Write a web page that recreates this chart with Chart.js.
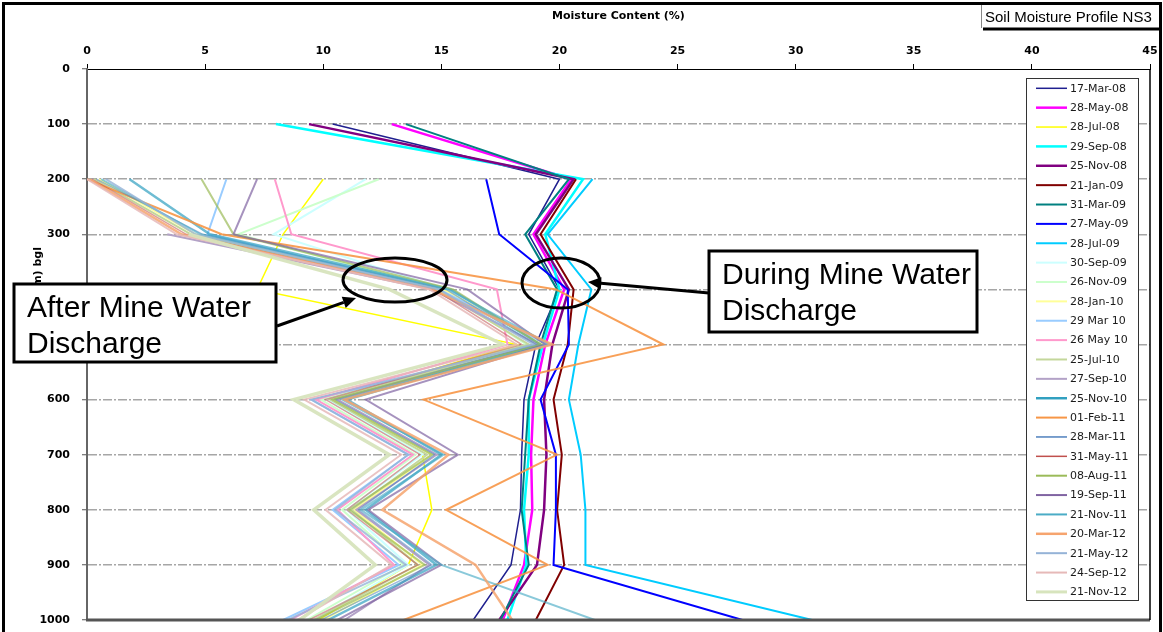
<!DOCTYPE html>
<html>
<head>
<meta charset="utf-8">
<script src="https://cdn.jsdelivr.net/npm/chart.js@4.4.0/dist/chart.umd.min.js"></script>
<style>
  html, body { margin: 0; padding: 0; background: #ffffff; }
  #wrap { width: 1163px; height: 632px; position: relative; }
  canvas { display: block; }
</style>
</head>
<body>
<div id="wrap"><canvas id="soil" width="1163" height="632"></canvas></div>
<script>
// Depths below ground level (mm) at which moisture was measured
const depthMm = [100, 200, 300, 400, 500, 600, 700, 800, 900, 1000];

// Axis tick values and their labels
const depthTickValues = [0, 100, 200, 300, 400, 500, 600, 700, 800, 900, 1000];
const depthTickLabels = ['0', '100', '200', '300', '400', '500', '600', '700', '800', '900', '1000'];
const moistureTickValues = [0, 5, 10, 15, 20, 25, 30, 35, 40, 45];
const moistureTickLabels = ['0', '5', '10', '15', '20', '25', '30', '35', '40', '45'];

// Moisture content (%) per survey date, one value per depth (null = not measured)
const v17Mar08 = [10.4, 20.0, 18.7, 20.0, 19.0, 18.5, 18.4, 18.35, 17.95, 16.35];
const v28May08 = [12.9, 20.5, 18.9, 20.2, 19.4, 18.9, 18.8, 18.85, 18.5, 17.6];
const v28Jul08 = [null, 10.0, 8.3, 7.2, 18.2, 10.3, 14.2, 14.6, 13.6, 9.8];
const v29Sep08 = [8.0, 21.0, 19.4, 20.0, 19.3, 18.7, 18.7, 18.5, 18.6, 17.8];
const v25Nov08 = [9.4, 20.6, 19.0, 20.4, 19.7, 19.35, 19.45, 19.35, 19.05, 17.45];
const v21Jan09 = [null, 20.7, 19.2, 20.6, 20.35, 19.75, 20.1, 19.9, 20.2, 19.0];
const v31Mar09 = [13.5, 20.4, 18.55, 19.9, 19.2, 18.7, 18.55, 18.4, 18.7, 17.5];
const v27May09 = [null, 16.9, 17.45, 20.35, 20.4, 19.2, 19.85, 19.85, 19.75, 27.75];
const v28Jul09 = [null, 21.4, 19.5, 21.35, 20.8, 20.4, 20.9, 21.1, 21.1, 30.7];
const v30Sep09 = [null, 11.8, 7.9, 15.2, 19.0, 10.2, 14.2, 11.0, 13.6, 9.6];
const v26Nov09 = [null, 12.35, 6.4, 15.0, 18.6, 9.9, 13.9, 10.8, 13.4, 9.3];
const v28Jan10 = [null, 0.5, 4.6, 15.1, 19.3, 10.4, 14.6, 11.3, 14.2, 10.0];
const v29Mar10 = [null, 5.9, 5.1, 14.9, 19.5, 9.5, 13.6, 10.4, 13.2, 8.3];
const v26May10 = [null, 7.95, 8.65, 17.35, 17.8, 9.7, 13.8, 10.6, 13.0, 8.6];
const v25Jul10 = [null, 0.3, 4.4, 14.8, 18.7, 10.3, 14.4, 11.2, 14.0, 9.6];
const v27Sep10 = [null, null, 3.4, 14.6, 19.1, 10.6, 14.8, 11.4, 14.5, 10.9];
const v25Nov10 = [null, 1.8, 5.2, 15.4, 19.2, 11.0, 15.0, 11.8, 14.8, 10.2];
const v01Feb11 = [null, 0.0, 5.7, 19.85, 24.4, 14.25, 19.9, 15.2, 19.5, 13.4];
const v28Mar11 = [null, 0.4, 4.9, 15.2, 19.0, 10.5, 14.7, 11.5, 14.6, 9.9];
const v31May11 = [null, 0.2, 4.2, 14.7, 18.4, 10.1, 14.1, 11.0, 14.0, 9.4];
const v08Aug11 = [null, 4.85, 6.2, 15.5, 19.2, 10.4, 14.6, 11.1, 14.3, 9.7];
const v19Sep11 = [null, 7.2, 6.2, 16.1, 19.4, 11.8, 15.7, 11.9, 15.0, 10.6];
const v21Nov11 = [null, 0.6, 4.8, 15.3, 19.6, 10.8, 15.1, 11.6, 15.0, 21.5];
const v20Mar12 = [null, 0.1, 4.0, 14.6, 19.7, 10.9, 15.3, 12.5, 16.45, 18.0];
const v21May12 = [null, 0.8, 4.6, 14.9, 18.9, 9.5, 13.6, 10.5, 13.5, 8.5];
const v24Sep12 = [null, 0.0, 3.8, 14.5, 18.2, 9.2, 13.3, 10.1, 12.9, 8.9];
const v21Nov12 = [null, null, 4.3, 12.8, 17.6, 8.75, 12.8, 9.6, 12.2, 9.0];

const surveyDates = [
  '17-Mar-08', '28-May-08', '28-Jul-08', '29-Sep-08', '25-Nov-08', '21-Jan-09',
  '31-Mar-09', '27-May-09', '28-Jul-09', '30-Sep-09', '26-Nov-09', '28-Jan-10',
  '29 Mar 10', '26 May 10', '25-Jul-10', '27-Sep-10', '25-Nov-10', '01-Feb-11',
  '28-Mar-11', '31-May-11', '08-Aug-11', '19-Sep-11', '21-Nov-11', '20-Mar-12',
  '21-May-12', '24-Sep-12', '21-Nov-12'
];

const surveyValues = [
  v17Mar08, v28May08, v28Jul08, v29Sep08, v25Nov08, v21Jan09, v31Mar09, v27May09,
  v28Jul09, v30Sep09, v26Nov09, v28Jan10, v29Mar10, v26May10, v25Jul10, v27Sep10,
  v25Nov10, v01Feb11, v28Mar11, v31May11, v08Aug11, v19Sep11, v21Nov11, v20Mar12,
  v21May12, v24Sep12, v21Nov12
];

// Line styling for each survey
const lineColors = [
  '#1f1f8f', '#ff00ff', '#ffff00', '#00ffff', '#800080', '#800000',
  '#008080', '#0000ff', '#00ccff', '#ccffff', '#ccffcc', '#ffff99',
  '#99ccff', '#ff99cc', '#c4d79b', '#b3a2c7', '#31a0c0', '#f79646',
  '#4f81bd', '#c0504d', '#9bbb59', '#8064a2', '#4bacc6', '#f6a46e',
  '#95b3d7', '#e6b9b8', '#d7e4bd'
];
const lineWidths = [
  1.5, 2.5, 1.5, 2.5, 2.5, 2, 2, 2, 2, 2, 2, 2, 2, 2, 2, 2, 2.5, 2,
  1.5, 1.5, 2, 2, 2, 2.5, 2, 2, 3.5
];
const lineAlpha = [
  1, 1, 1, 1, 1, 1, 1, 1, 1, 1, 1, 1, 1, 1, 1, 1, 0.7, 0.9,
  0.55, 0.55, 0.7, 0.7, 0.65, 0.85, 0.8, 0.85, 0.95
];

function withAlpha(hex, a) {
  const n = parseInt(hex.slice(1), 16);
  return 'rgba(' + ((n >> 16) & 255) + ',' + ((n >> 8) & 255) + ',' + (n & 255) + ',' + a + ')';
}

const datasets = surveyDates.map((label, i) => ({
  label: label,
  data: depthMm
    .map((d, k) => ({ x: surveyValues[i][k], y: d }))
    .filter(p => p.x !== null),
  borderColor: withAlpha(lineColors[i], lineAlpha[i]),
  legendColor: lineColors[i],
  borderWidth: lineWidths[i],
  pointRadius: 0,
  pointHoverRadius: 0,
  tension: 0,
  fill: false,
  order: -i
}));

const tickFont = { family: 'DejaVu Sans', weight: 'bold', size: 11 };

// Frame, legend, callouts and labels drawn around the plot
const decorations = {
  id: 'decorations',
  afterDatasetsDraw(chart) {
    const { ctx, chartArea: a } = chart;
    ctx.save();
    ctx.strokeStyle = '#555555';
    ctx.lineWidth = 3;
    ctx.beginPath();
    ctx.moveTo(a.left - 1, a.bottom);
    ctx.lineTo(a.right, a.bottom);
    ctx.stroke();
    ctx.strokeStyle = '#000000';
    ctx.lineWidth = 1.5;
    ctx.beginPath();
    ctx.moveTo(a.right, a.top);
    ctx.lineTo(a.right, a.bottom);
    ctx.stroke();
    ctx.restore();
  },
  afterDraw(chart) {
    const ctx = chart.ctx;
    ctx.save();

    // legend
    const lx = 1026, ly = 78, lw = 112, lh = 522;
    ctx.fillStyle = '#ffffff';
    ctx.fillRect(lx, ly, lw, lh);
    ctx.strokeStyle = '#333333';
    ctx.lineWidth = 1;
    ctx.strokeRect(lx + 0.5, ly + 0.5, lw, lh);
    ctx.font = '11px "DejaVu Sans"';
    ctx.textBaseline = 'middle';
    ctx.textAlign = 'left';
    chart.data.datasets.forEach((ds, i) => {
      const y = 88.3 + i * 19.37;
      ctx.strokeStyle = ds.legendColor;
      ctx.lineWidth = Math.min(ds.borderWidth, 3);
      ctx.beginPath();
      ctx.moveTo(1036, y);
      ctx.lineTo(1067, y);
      ctx.stroke();
      ctx.fillStyle = '#1a1a1a';
      ctx.fillText(ds.label, 1070, y + 0.5);
    });

    // rotated depth title (partly hidden by the callout box)
    ctx.save();
    ctx.font = 'bold 11px "DejaVu Sans"';
    const depthTitle = 'Depth (mm) bgl';
    const tw = ctx.measureText(depthTitle).width;
    ctx.translate(38, 247);
    ctx.rotate(-Math.PI / 2);
    ctx.fillStyle = '#000000';
    ctx.textAlign = 'left';
    ctx.textBaseline = 'middle';
    ctx.fillText(depthTitle, -tw, 0);
    ctx.restore();

    // ellipses around the two groups of profiles
    ctx.strokeStyle = '#000000';
    ctx.lineWidth = 3;
    ctx.beginPath();
    ctx.ellipse(395, 280, 52, 22, 0, 0, Math.PI * 2);
    ctx.stroke();
    ctx.beginPath();
    ctx.ellipse(561, 283, 39, 25, 0, 0, Math.PI * 2);
    ctx.stroke();

    // arrows
    function arrow(x1, y1, x2, y2) {
      const ang = Math.atan2(y2 - y1, x2 - x1);
      const len = 13, half = 6;
      const bx = x2 - len * Math.cos(ang), by = y2 - len * Math.sin(ang);
      ctx.beginPath();
      ctx.moveTo(x1, y1);
      ctx.lineTo(bx, by);
      ctx.stroke();
      ctx.beginPath();
      ctx.moveTo(x2, y2);
      ctx.lineTo(bx - half * Math.sin(ang), by + half * Math.cos(ang));
      ctx.lineTo(bx + half * Math.sin(ang), by - half * Math.cos(ang));
      ctx.closePath();
      ctx.fillStyle = '#000000';
      ctx.fill();
    }
    ctx.lineWidth = 3;
    arrow(277, 326, 356, 298);
    arrow(709, 293, 588, 282);

    // callout boxes
    function callout(x, y, w, h, lines) {
      ctx.fillStyle = '#ffffff';
      ctx.fillRect(x, y, w, h);
      ctx.strokeStyle = '#000000';
      ctx.lineWidth = 3;
      ctx.strokeRect(x, y, w, h);
      ctx.fillStyle = '#000000';
      ctx.font = '30px "Liberation Sans"';
      ctx.textAlign = 'left';
      ctx.textBaseline = 'alphabetic';
      lines.forEach((t, k) => ctx.fillText(t, x + 13, y + 33 + k * 36));
    }
    callout(14, 284, 262, 78, ['After Mine Water', 'Discharge']);
    callout(709, 251, 268, 81, ['During Mine Water', 'Discharge']);

    // chart name box, top right
    ctx.fillStyle = '#ffffff';
    ctx.fillRect(981, 5, 179, 23);
    ctx.strokeStyle = '#888888';
    ctx.lineWidth = 1;
    ctx.beginPath();
    ctx.moveTo(981.5, 5);
    ctx.lineTo(981.5, 28);
    ctx.stroke();
    ctx.strokeStyle = '#000000';
    ctx.lineWidth = 3;
    ctx.beginPath();
    ctx.moveTo(983, 29);
    ctx.lineTo(1160, 29);
    ctx.stroke();
    ctx.fillStyle = '#000000';
    ctx.font = '15px "Liberation Sans"';
    ctx.textAlign = 'left';
    ctx.textBaseline = 'alphabetic';
    ctx.fillText('Soil Moisture Profile NS3', 985, 22);

    // outer frame
    ctx.strokeStyle = '#000000';
    ctx.lineWidth = 3;
    ctx.strokeRect(3.5, 3.5, 1157, 700);

    ctx.restore();
  }
};

new Chart(document.getElementById('soil'), {
  type: 'line',
  data: { datasets: datasets },
  options: {
    responsive: false,
    animation: false,
    devicePixelRatio: 1,
    layout: { padding: { top: 0, left: 0, right: 13, bottom: 12 } },
    plugins: {
      legend: { display: false },
      tooltip: { enabled: false },
      title: { display: false }
    },
    scales: {
      x: {
        type: 'linear',
        position: 'top',
        min: 0,
        max: 45,
        ticks: {
          stepSize: 5, font: tickFont, color: '#000000', padding: 6, maxRotation: 0,
          callback: v => moistureTickLabels[moistureTickValues.indexOf(v)]
        },
        grid: { drawOnChartArea: false, drawTicks: true, tickLength: 5, tickColor: '#000000', tickWidth: 1 },
        border: { display: true, color: '#000000', width: 1 },
        title: {
          display: true,
          text: 'Moisture Content (%)',
          font: tickFont,
          color: '#000000',
          padding: { top: 10, bottom: 0 }
        },
        afterFit: s => { s.height = 69; s.paddingLeft = 0; s.paddingRight = 0; }
      },
      y: {
        type: 'linear',
        reverse: true,
        min: 0,
        max: 1000,
        ticks: {
          stepSize: 100, font: tickFont, color: '#000000', padding: 12,
          callback: v => depthTickLabels[depthTickValues.indexOf(v)]
        },
        grid: {
          drawOnChartArea: true,
          drawTicks: true,
          tickLength: 5,
          tickColor: '#555555',
          tickWidth: 1,
          lineWidth: 1.5,
          color: c => (c.tick && (c.tick.value === 0 || c.tick.value === 1000)) ? 'rgba(0,0,0,0)' : '#a6a6a6'
        },
        border: { display: true, color: '#666666', width: 2, dash: [9, 2, 2, 2] },
        afterFit: s => { s.width = 87; s.paddingTop = 0; s.paddingBottom = 0; }
      }
    }
  },
  plugins: [decorations]
});
</script>
</body>
</html>
